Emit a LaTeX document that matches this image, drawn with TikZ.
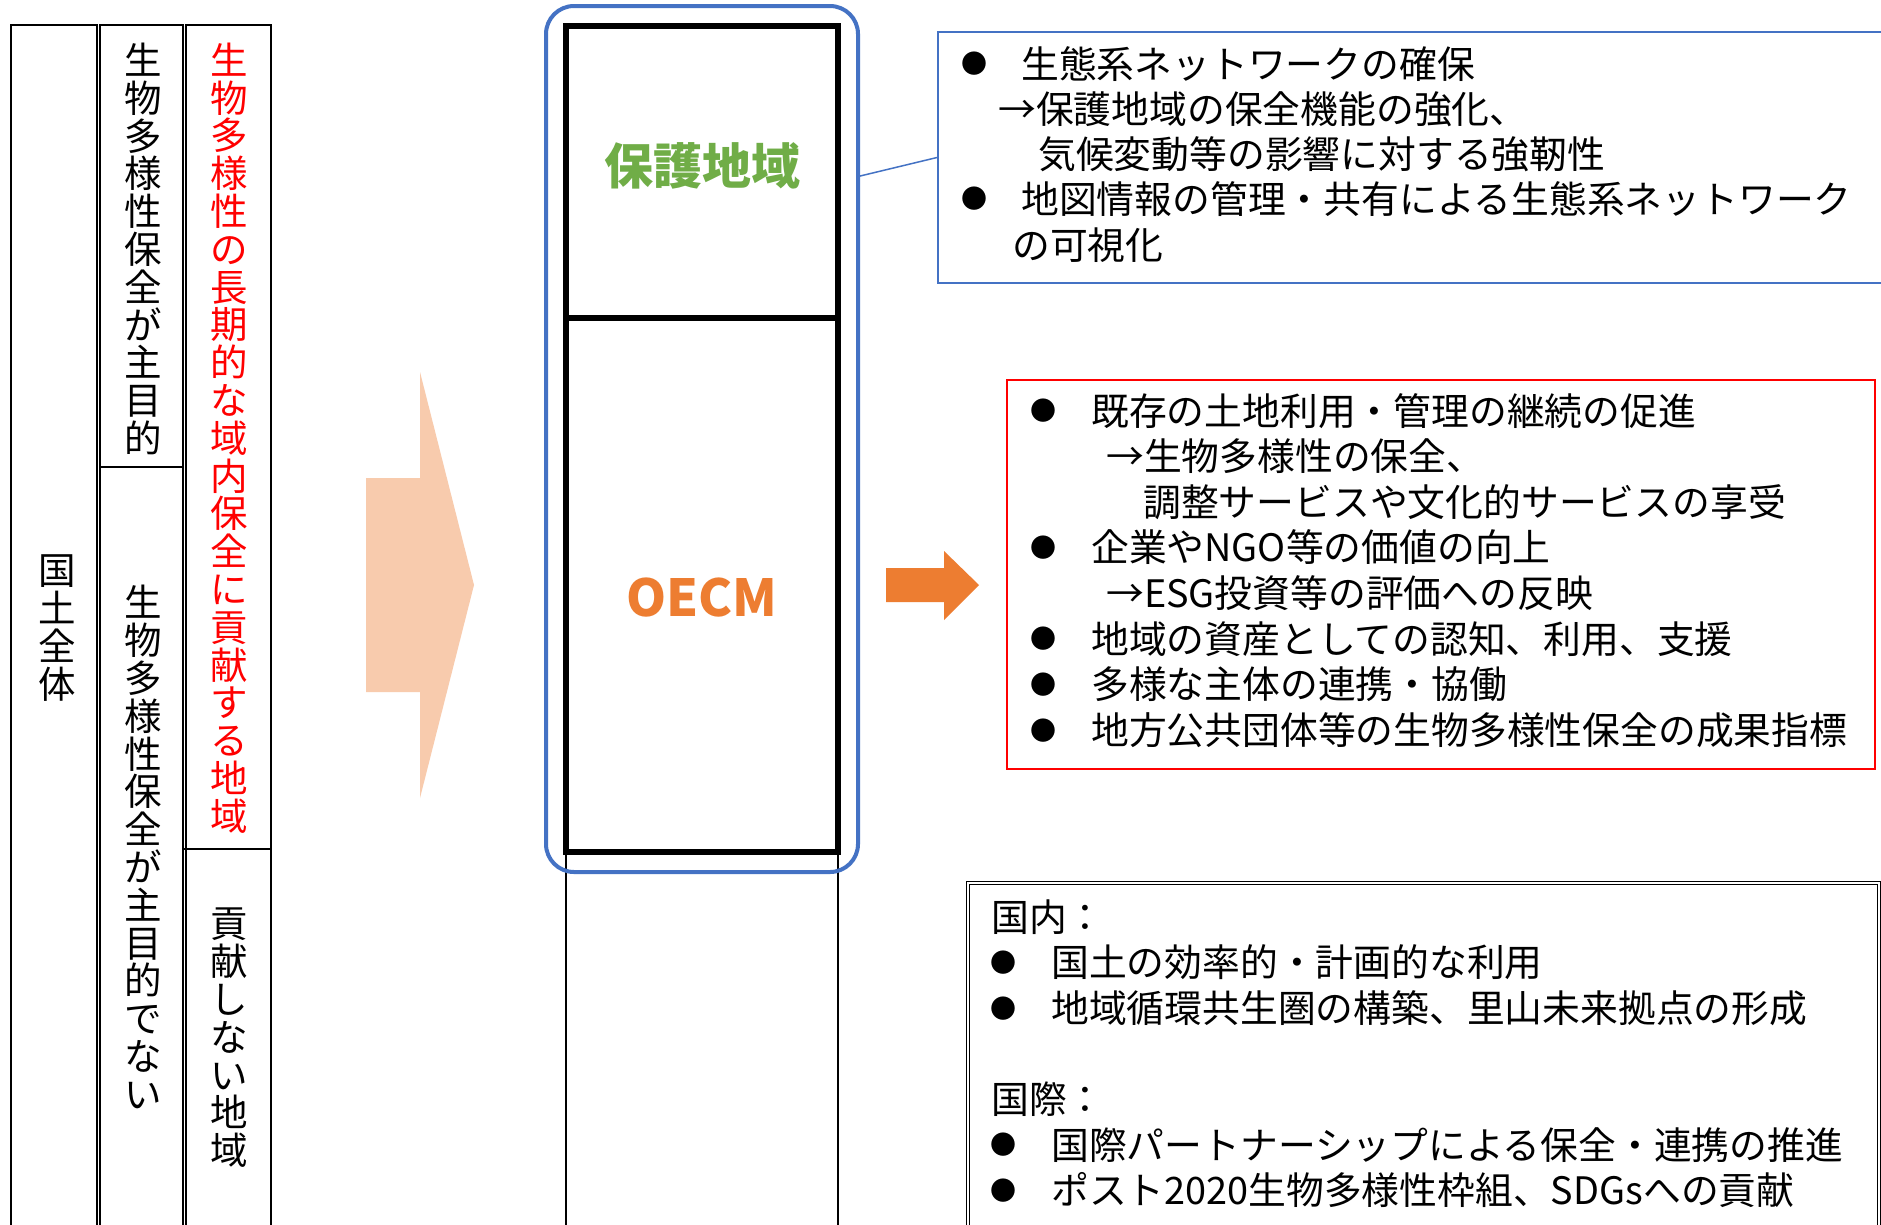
\documentclass[tikz,border=0pt]{standalone}
\usepackage{fontspec}
\setmainfont{Noto Sans CJK JP}
\usetikzlibrary{positioning}
\definecolor{office-blue}{HTML}{4472C4}
\definecolor{office-green}{HTML}{70AD47}
\definecolor{office-orange}{HTML}{ED7D31}
\definecolor{light-orange}{HTML}{F8CBAD}
\definecolor{pure-red}{HTML}{FF0000}
\lineskiplimit=-100pt

\tikzset{
	tategaki/.style={inner sep=0pt, align=center, font=\fontsize{37.5}{37.8}\selectfont},
	txt/.style={anchor=west, inner sep=0pt, text height=33pt, text depth=4.8pt, font=\fontsize{37.8}{45.6}\selectfont},
	bul/.style={inner sep=0pt, font=\fontsize{26}{26}\selectfont},
	colline/.style={line width=2.5pt},
	infobox/.style={inner sep=0pt, line width=2pt}
}

\begin{document}
\begin{tikzpicture}[x=1pt,y=-1pt]
	\useasboundingbox (0,0) rectangle (1881,1224);
	\clip (0,0) rectangle (1881,1224);
	\fill[white] (0,0) rectangle (1881,1224);
	
	% left columns
	\draw[colline] (11,25) rectangle (97,1240);
	\draw[colline] (100,25) rectangle (183,1240);
	\draw[colline] (100,467) -- (183,467);
	\draw[colline] (186,25) rectangle (271,1240);
	\draw[colline] (183,849) -- (271,849);
	\node[tategaki] (zenkoku) at (57,628) {国\\土\\全\\体};
	\node[tategaki] (shumoku) at (143,249) {生\\物\\多\\様\\性\\保\\全\\が\\主\\目\\的};
	\node[tategaki] (hishumoku) at (143,847) {生\\物\\多\\様\\性\\保\\全\\が\\主\\目\\的\\で\\な\\い};
	\node[tategaki, text=pure-red] (kouken) at (229,438) {生\\物\\多\\様\\性\\の\\長\\期\\的\\な\\域\\内\\保\\全\\に\\貢\\献\\す\\る\\地\\域};
	\node[tategaki] (hikouken) at (229,1038) {貢\\献\\し\\な\\い\\地\\域};
	
	% big arrow
	\fill[light-orange] (366,478) -- (420,478) -- (420,372) -- (474,585) -- (420,798) -- (420,692) -- (366,692) -- cycle;
	
	% middle column
	\draw[line width=1.5pt] (566,852) -- (566,1240) (838,852) -- (838,1240);
	\draw[line width=6pt] (566,26) rectangle (838,852);
	\draw[line width=6pt] (566,318) -- (838,318);
	\node[draw=office-blue, line width=4pt, rounded corners=28pt, minimum width=312pt, minimum height=866pt, inner sep=0pt] (grp) at (702,439) {};
	\node[text=office-green, font=\fontsize{49}{49}\selectfont\bfseries] (hogo) at (702,166) {保護地域};
	\node[text=office-orange, font=\fontsize{51}{51}\selectfont\bfseries] (oecm) at (702,598) {OECM};
	
	% small arrow
	\fill[office-orange] (886,568) -- (944,568) -- (944,551) -- (979,585) -- (944,620) -- (944,602) -- (886,602) -- cycle;
	
	% protected areas
	\node[infobox, draw=office-blue, minimum width=960pt, minimum height=251pt] (hogoinfo) at (1418,157.5) {};
	\draw[office-blue, line width=1.5pt] (grp.59.3) -- (hogoinfo.west);
	\foreach \y [count=\i] in {64,199}
		\node[bul] (hogobul\i) at (974,\y) {●};
	\foreach \x/\y/\t [count=\i] in {1021/64/生態系ネットワークの確保, 998/109/→保護地域の保全機能の強化、, 1038/154/気候変動等の影響に対する強靭性, 1021/199/地図情報の管理・共有による生態系ネットワーク, 1012/245/の可視化}
		\node[txt] (hogotxt\i) at (\x,\y) {\t};
	
	% OECM
	\node[infobox, draw=pure-red, minimum width=868pt, minimum height=389pt] (oecminfo) at (1441,574.5) {};
	\foreach \y [count=\i] in {411,547.8,639,684.6,730.2}
		\node[bul] (oecmbul\i) at (1043,\y) {●};
	\foreach \x/\y/\t [count=\i] in {1091/411/既存の土地利用・管理の継続の促進, 1106/456.6/→生物多様性の保全、, 1143/502.2/調整サービスや文化的サービスの享受, 1091/547.8/企業やNGO等の価値の向上, 1106/593.4/→ESG投資等の評価への反映, 1091/639/地域の資産としての認知、利用、支援, 1091/684.6/多様な主体の連携・協働, 1091/730.2/地方公共団体等の生物多様性保全の成果指標}
		\node[txt] (oecmtxt\i) at (\x,\y) {\t};
	
	% domestic and international
	\node[draw, double, double distance=2.5pt, line width=1.2pt, inner sep=0pt, minimum width=911pt, minimum height=400pt] (koka) at (1423.5,1083) {};
	\foreach \y [count=\i] in {962.6,1008.2,1145,1190.6}
		\node[bul] (kokabul\i) at (1003,\y) {●};
	\foreach \x/\y/\t [count=\i] in {991/917/国内：, 1051/962.6/国土の効率的・計画的な利用, 1051/1008.2/地域循環共生圏の構築、里山未来拠点の形成, 991/1099.4/国際：, 1051/1145/国際パートナーシップによる保全・連携の推進, 1051/1190.6/ポスト2020生物多様性枠組、SDGsへの貢献}
		\node[txt] (kokatxt\i) at (\x,\y) {\t};
\end{tikzpicture}
\end{document}
